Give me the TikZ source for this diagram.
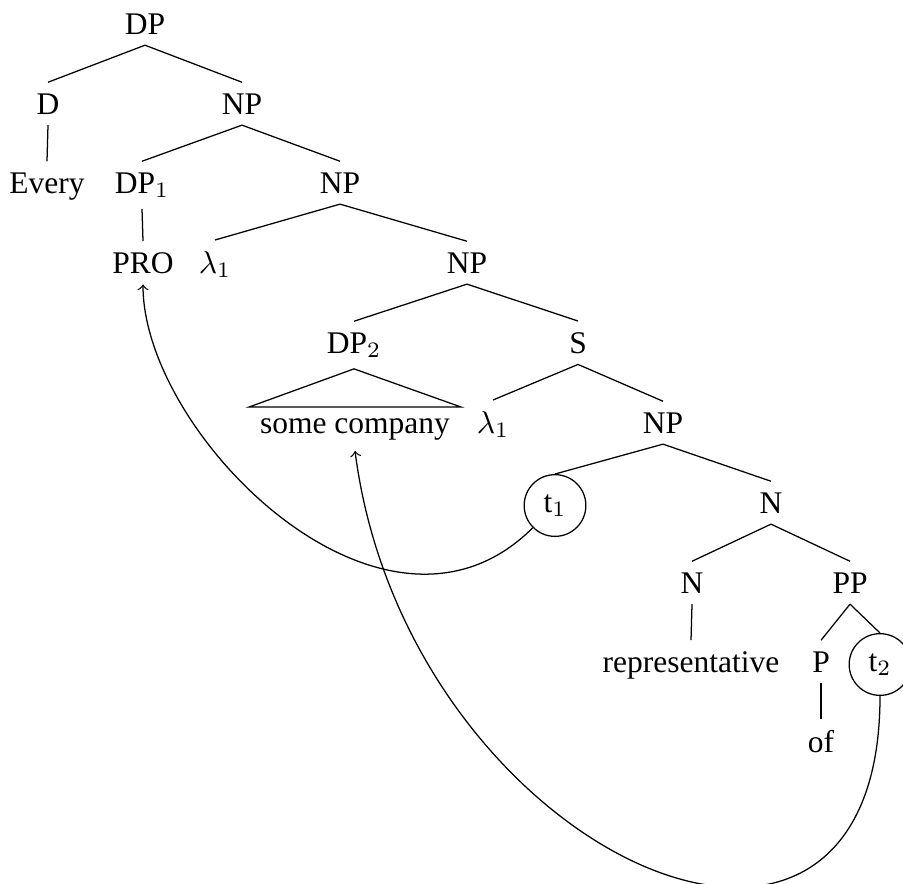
\documentclass[tikz,border=0pt]{standalone}
\usepackage{fontspec}
\setmainfont{Liberation Serif}

\tikzset{
  trace/.style={circle, draw}
}

\begin{document}
\begin{tikzpicture}[x=0.31746pt, y=-0.31746pt, every node/.style={anchor=base}]
  \useasboundingbox (0,0) rectangle (903,883);

  \node (dp)    at (145, 34) {DP};
  \node (d)     at ( 48,114) {D};
  \node (np1)   at (242,114) {NP};
  \node (every) at ( 47,193) {Every};
  \node (dp1)   at (142,193) {DP$_1$};
  \node (np2)   at (340,193) {NP};
  \node (pro)   at (143,273) {PRO};
  \node (lam1)  at (215,273) {$\lambda_1$};
  \node (np3)   at (467,273) {NP};
  \node (dp2)   at (354,353) {DP$_2$};
  \node (s)     at (578,353) {S};
  \node (sc)    at (355,433) {some company};
  \node (lam2)  at (493,433) {$\lambda_1$};
  \node (np4)   at (663,433) {NP};
  \node [trace] (t1) at (555,512) {t$_1$};
  \node (n1)    at (771,513) {N};
  \node (n2)    at (692,593) {N};
  \node (pp)    at (850,593) {PP};
  \node (rep)   at (691,672) {representative};
  \node (p)     at (821,672) {P};
  \node [trace] (t2) at (880,671) {t$_2$};
  \node (of)    at (821,752) {of};

  \draw (dp.south)  edge (d.north)    edge (np1.north);
  \draw (d.south)   -- (every.north);
  \draw (np1.south) edge (dp1.north)  edge (np2.north);
  \draw (dp1.south) -- (pro.north);
  \draw (np2.south) edge (lam1.north) edge (np3.north);
  \draw (np3.south) edge (dp2.north)  edge (s.north);
  \draw (dp2.south) -- (sc.north west) -- (sc.north east) -- cycle;
  \draw (s.south)   edge (lam2.north) edge (np4.north);
  \draw (np4.south) edge (t1.north)   edge (n1.north);
  \draw (n1.south)  edge (n2.north)   edge (pp.north);
  \draw (n2.south)  -- (rep.north);
  \draw (pp.south)  edge (p.north)    edge (t2.north);
  \draw (p.south)   -- (of.north);

  % movement arrows
  \draw [->] (t1.south west) .. controls +(-148,148) and +(0,151) .. (pro.south);
  \draw [->] (t2.south) .. controls +(0,370) and +(52,402) .. (sc.south);
\end{tikzpicture}
\end{document}
